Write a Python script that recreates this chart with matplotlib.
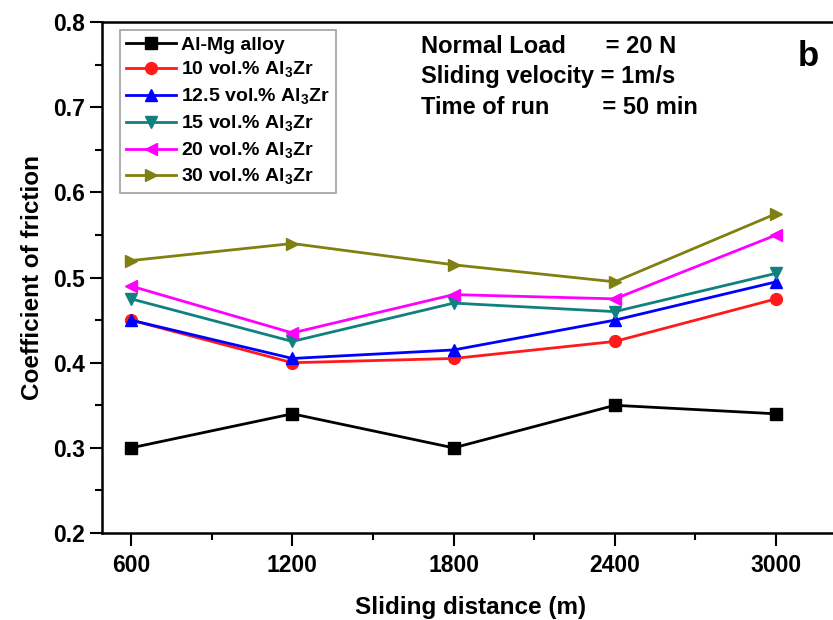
import matplotlib
matplotlib.use("Agg")
import matplotlib.pyplot as plt
from matplotlib.ticker import MultipleLocator

plt.rcParams["font.family"] = ["Liberation Sans", "DejaVu Sans"]
plt.rcParams["font.weight"] = "bold"
plt.rcParams["mathtext.fontset"] = "custom"
plt.rcParams["mathtext.rm"] = "Liberation Sans:bold"
plt.rcParams["mathtext.bf"] = "Liberation Sans:bold"

distance = [600, 1200, 1800, 2400, 3000]

al_mg = [0.30, 0.34, 0.30, 0.35, 0.34]
zr_10 = [0.45, 0.40, 0.405, 0.425, 0.475]
zr_125 = [0.45, 0.405, 0.415, 0.45, 0.495]
zr_15 = [0.475, 0.425, 0.47, 0.46, 0.505]
zr_20 = [0.49, 0.435, 0.48, 0.475, 0.55]
zr_30 = [0.52, 0.54, 0.515, 0.495, 0.575]

labels = ["Al-Mg alloy",
          r"10 vol.% Al$_\mathrm{3}$Zr",
          r"12.5 vol.% Al$_\mathrm{3}$Zr",
          r"15 vol.% Al$_\mathrm{3}$Zr",
          r"20 vol.% Al$_\mathrm{3}$Zr",
          r"30 vol.% Al$_\mathrm{3}$Zr"]

series = [al_mg, zr_10, zr_125, zr_15, zr_20, zr_30]
colors = ["black", "#ff1a1a", "#0000ff", "#118080", "#ff00ff", "#808010"]
markers = ["s", "o", "^", "v", "<", ">"]

fig = plt.figure(figsize=(8.33, 6.2), dpi=100)
ax = fig.add_axes([0.1225, 0.1403, 0.886, 0.824])

for vals, lab, col, mk in zip(series, labels, colors, markers):
    ax.plot(distance, vals, color=col, marker=mk, markersize=8.5,
            linewidth=2, label=lab)

ax.set_xlim(492, 3238)
ax.set_ylim(0.2, 0.8)
ax.xaxis.set_major_locator(MultipleLocator(600))
ax.xaxis.set_minor_locator(MultipleLocator(300))
ax.yaxis.set_major_locator(MultipleLocator(0.1))
ax.yaxis.set_minor_locator(MultipleLocator(0.05))
ax.tick_params(which="major", direction="out", length=9, width=1.5,
               labelsize=16.5, top=False, right=False)
ax.tick_params(axis="x", which="major", pad=6)
ax.tick_params(which="minor", direction="out", length=5, width=1.5,
               top=False, right=False)
for sp in ax.spines.values():
    sp.set_linewidth(1.8)

ax.set_xlabel("Sliding distance (m)", fontsize=17.5, fontweight="bold", labelpad=14)
ax.set_ylabel("Coefficient of friction", fontsize=17.5, fontweight="bold", labelpad=6)

leg = ax.legend(loc="upper left", bbox_to_anchor=(0.024, 0.984), fontsize=14,
                frameon=True, fancybox=False, edgecolor="#888888",
                handlelength=2.6, labelspacing=0.33, borderpad=0.3,
                handletextpad=0.25, borderaxespad=0)
leg.get_frame().set_linewidth(1.2)

ax.text(0.432, 0.975, "Normal Load      = 20 N\nSliding velocity = 1m/s\nTime of run        = 50 min",
        transform=ax.transAxes, fontsize=17, fontweight="bold",
        va="top", ha="left", linespacing=1.42)
ax.text(0.957, 0.933, "b", transform=ax.transAxes, fontsize=25,
        fontweight="bold", va="center", ha="center")

fig.savefig("out.png", dpi=100)
